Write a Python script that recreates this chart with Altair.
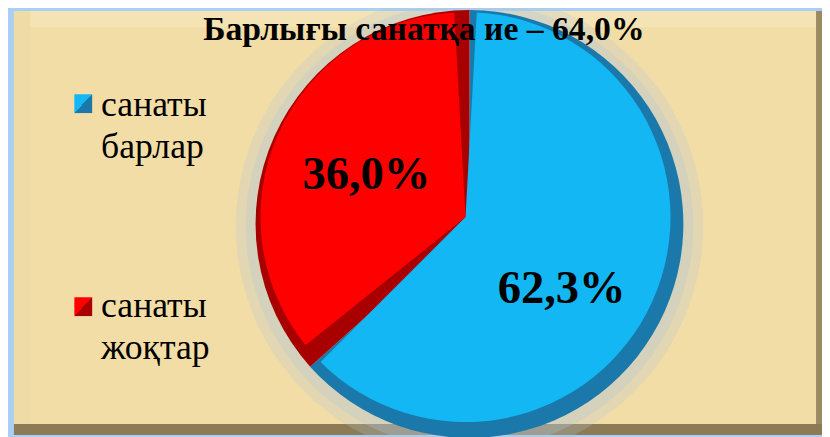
import altair as alt
import pandas as pd

# ---- data -------------------------------------------------------------
categories = ["санаты барлар", "санаты жоқтар"]
values = [62.3, 36.0]
labels = ["62,3%", "36,0%"]
title_text = "Барлығы санатқа ие – 64,0%"

light_colors = ["#12B7F3", "#FF0000"]
dark_colors = ["#1A79AA", "#A80000"]
halo_color = "#B3C6D6"

df = pd.DataFrame({"cat": categories, "value": values, "label": labels, "idx": [0, 1]})
one = pd.DataFrame({"k": [0]})

W, H = 822, 429
CX, CY, R = 466, 216, 216

theta = alt.Theta("value:Q", stack=True)
order = alt.Order("idx:Q")
base = alt.Chart(df)
bg = alt.Chart(one)


def rect(x, x2, y, y2, color):
    return bg.mark_rect(color=color).encode(
        x=alt.value(x), x2=alt.value(x2), y=alt.value(y), y2=alt.value(y2)
    )


panel = rect(6, W, 1, H, "#F2DDA6")
top_bevel = rect(6, W, 1, 17, "#F4E3B4")
left_bevel = rect(6, 22, 1, H, "#EEDBA6")
right_edge = rect(W - 6, W, 1, H, "#9C8B62")
bottom_band = rect(6, W, H - 11, H, "#8C7B55")

halo2 = base.mark_arc(color=halo_color, opacity=0.25).encode(
    theta=theta, order=order, x=alt.value(CX), y=alt.value(CY + 2),
    radius=alt.value(R + 20),
)
halo = base.mark_arc(color=halo_color, opacity=0.3).encode(
    theta=theta, order=order, x=alt.value(CX), y=alt.value(CY + 2),
    radius=alt.value(R + 10),
)
dark = base.mark_arc().encode(
    theta=theta, order=order, x=alt.value(CX), y=alt.value(CY),
    radius=alt.value(R),
    color=alt.condition(alt.datum.idx == 0, alt.value(dark_colors[0]), alt.value(dark_colors[1])),
)
light = base.mark_arc(padAngle=0.11).encode(
    theta=theta, order=order, x=alt.value(CX - 4), y=alt.value(CY - 7),
    radius=alt.value(R - 9),
    color=alt.condition(alt.datum.idx == 0, alt.value(light_colors[0]), alt.value(light_colors[1])),
)


def pct_label(i, dx, dy):
    return base.transform_window(
        cum="sum(value)", sort=[alt.SortField("idx")]
    ).transform_calculate(
        mid="datum.cum - datum.value / 2"
    ).transform_filter(
        alt.datum.idx == i
    ).mark_text(
        font="Liberation Serif", fontSize=47, fontWeight="bold", color="black",
        align="center", baseline="middle", dx=dx, dy=dy,
    ).encode(
        theta=alt.Theta("mid:Q", stack=None), x=alt.value(CX), y=alt.value(CY),
        radius=alt.value(114), text="label:N",
    )


lab_blue = pct_label(0, -11, 19)
lab_red = pct_label(1, 0, -3)


def legend_item(i, y_sq, y_txt):
    grad = alt.Gradient(
        gradient="linear", x1=0, y1=0, x2=1, y2=1,
        stops=[
            alt.GradientStop(color=light_colors[i], offset=0),
            alt.GradientStop(color=light_colors[i], offset=0.5),
            alt.GradientStop(color=dark_colors[i], offset=0.5),
            alt.GradientStop(color=dark_colors[i], offset=1),
        ],
    )
    sq = bg.mark_rect(color=grad).encode(
        x=alt.value(67), x2=alt.value(85), y=alt.value(y_sq), y2=alt.value(y_sq + 19)
    )
    txt = base.transform_filter(alt.datum.idx == i).mark_text(
        font="Liberation Serif", fontSize=36, color="black", align="left",
        baseline="alphabetic", lineBreak=" ", lineHeight=42,
    ).encode(
        x=alt.value(94), y=alt.value(y_txt), text="cat:N"
    )
    return sq + txt


leg1 = legend_item(0, 85, 107)
leg2 = legend_item(1, 290, 310)

title = bg.mark_text(
    text=title_text, font="Liberation Serif", fontSize=34, fontWeight="bold",
    color="black", align="center", baseline="alphabetic",
).encode(x=alt.value(420), y=alt.value(30))

chart = alt.layer(
    panel, top_bevel, left_bevel, right_edge, bottom_band,
    halo2, halo, dark, light, lab_blue, lab_red, leg1, leg2, title,
).properties(
    width=W, height=H, padding=0, autosize="none", background="#A9CFF5"
).configure_view(stroke=None)

chart.save("out.html", embed_options={"renderer": "svg", "actions": False})
